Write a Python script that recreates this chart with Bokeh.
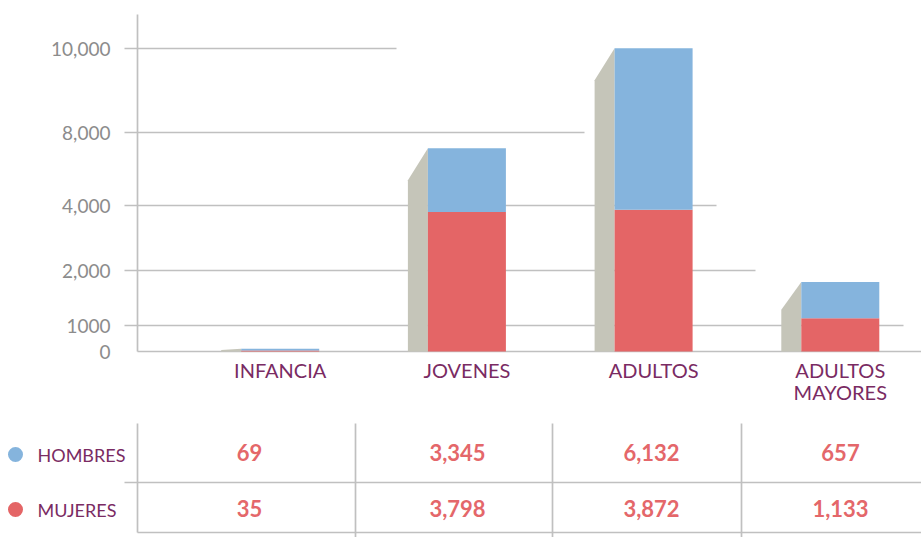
import numpy as np
from bokeh.plotting import figure
from bokeh.models import Range1d, FixedTicker, ColumnDataSource
from bokeh.embed import file_html
from bokeh.resources import INLINE
from bokeh.core.properties import value

# ---------------- data ----------------
categories = ["INFANCIA", "JOVENES", "ADULTOS", "ADULTOS\nMAYORES"]
hombres = [69, 3345, 6132, 657]
mujeres = [35, 3798, 3872, 1133]
series_names = ["HOMBRES", "MUJERES"]
tick_values = [0, 1000, 2000, 4000, 8000, 10000]
tick_labels = ["0", "1000", "2,000", "4,000", "8,000", "10,000"]

# ---------------- layout / style ----------------
# the reference axis is non-linear: height (px above baseline) of each tick
TICK_HEIGHT = [0, 26, 81, 146, 219, 303]
BASE = 351                      # page y of the chart baseline
X0, STEP = 279.7, 186.7         # page x of first category, category spacing
BLUE = "#85b4dd"
RED = "#e46566"
SIDE = "#c5c5b9"
PURPLE = "#7a2b63"
GRAY_TXT = "#8c8c8c"
LINE = "#c0c0c0"
VAL_RED = "#e4676a"
FONT = "Lato"
W, H = 921, 537


def to_display(v):
    v = np.asarray(v, float)
    out = np.interp(v, tick_values, TICK_HEIGHT)
    slope = (TICK_HEIGHT[-1] - TICK_HEIGHT[-2]) / (tick_values[-1] - tick_values[-2])
    over = v > tick_values[-1]
    out[over] = TICK_HEIGHT[-1] + (v[over] - tick_values[-1]) * slope
    return out


n = len(categories)
xs = X0 + STEP * np.arange(n)
bar_w = 78
depth = 20
m_h = to_display(mujeres)
t_h = to_display(np.array(mujeres) + np.array(hombres))

p = figure(width=W, height=H, x_range=Range1d(0, W), y_range=Range1d(H, 0),
           output_backend="svg", toolbar_location=None, x_axis_location=None,
           min_border=0)
p.outline_line_color = None
p.xgrid.visible = False
p.ygrid.visible = False

# y axis (non-linear tick positions), pinned inside the canvas
tick_pos = [BASE - h for h in TICK_HEIGHT]
ax = p.yaxis[0]
ax.fixed_location = 124
ax.ticker = FixedTicker(ticks=tick_pos)
ax.major_label_overrides = {pos: lab for pos, lab in zip(tick_pos, tick_labels)}
ax.axis_line_color = None
ax.major_tick_line_color = None
ax.minor_tick_line_color = None
ax.major_tick_out = 0
ax.major_tick_in = 0
ax.major_label_standoff = 14
ax.major_label_text_font = FONT
ax.major_label_text_font_size = "19px"
ax.major_label_text_color = GRAY_TXT

# partial gridlines, as in the reference
grid_end_px = [903, 755, 716, 584, 396]
p.segment(x0=[124] * 5, x1=grid_end_px, y0=tick_pos[1:], y1=tick_pos[1:],
          line_color=LINE, line_width=1.7)
# axis line and baseline
p.segment(x0=[137, 137], x1=[137, W], y0=[BASE, BASE], y1=[14, BASE],
          line_color=LINE, line_width=1.7)

# 3D side faces
side_xs, side_ys = [], []
for x, h in zip(xs, t_h):
    xl = x - bar_w / 2
    drop = min(32.0, 0.4 * h)
    side_xs.append([xl - depth, xl - depth, xl, xl])
    side_ys.append([BASE, BASE - (h - drop), BASE - h, BASE])
p.patches(xs=side_xs, ys=side_ys, fill_color=SIDE, line_color=None)

src = ColumnDataSource(dict(x=xs, m=BASE - m_h, t=BASE - t_h))
p.vbar(x="x", width=bar_w, bottom=BASE, top="m", source=src, fill_color=RED, line_color=None)
p.vbar(x="x", width=bar_w, bottom="m", top="t", source=src, fill_color=BLUE, line_color=None)

p.text(x=xs, y=[BASE + 6] * n, text=categories, text_align="center", text_baseline="top",
       text_font=value(FONT), text_font_size="20px", text_color=PURPLE,
       text_line_height=0.92)

# ---------------- table ----------------
ROW_Y = [452, 508]
TABLE_X = [249, 457, 651, 840]
col_lines = [137, 355, 552, 741]
p.segment(x0=col_lines, x1=col_lines, y0=[423] * 4, y1=[532, H, H, H],
          line_color=LINE, line_width=1.7)
p.segment(x0=[124, 137], x1=[W, W], y0=[482, 532], y1=[482, 532],
          line_color=LINE, line_width=1.7)

for row, vals in zip(ROW_Y, [hombres, mujeres]):
    p.text(x=TABLE_X, y=[row] * n, text=[f"{v:,}" for v in vals], text_align="center",
           text_baseline="middle", text_font=value(FONT), text_font_size="22px",
           text_font_style="bold", text_color=VAL_RED)

# row headers / legend
p.scatter(x=[15, 15], y=[454, 509], size=15, fill_color=[BLUE, RED], line_color=None)
p.text(x=[37, 37], y=[454, 509], text=series_names, text_baseline="middle",
       text_font=value(FONT), text_font_size="18px", text_color=PURPLE)

open("out.html", "w").write(file_html(p, INLINE))
